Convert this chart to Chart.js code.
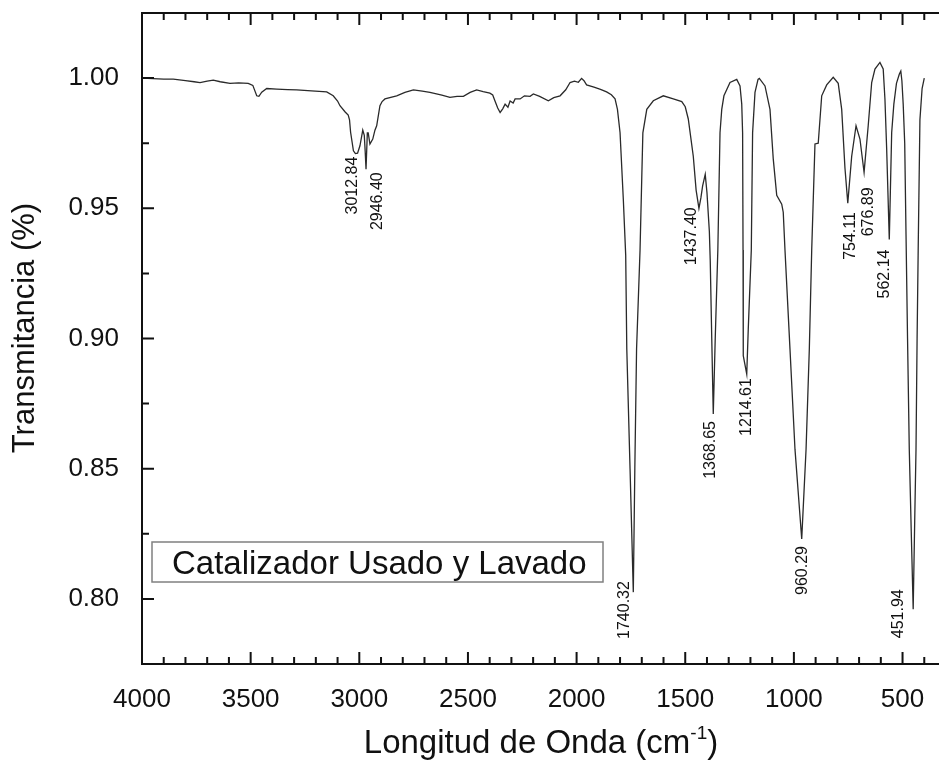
<!DOCTYPE html>
<html>
<head>
<meta charset="utf-8">
<script src="https://cdn.jsdelivr.net/npm/chart.js@4"></script>
<style>
html, body { margin: 0; padding: 0; background: #fff; overflow: hidden; }
#wrap { width: 950px; height: 763px; }
</style>
</head>
<body>
<div id="wrap"><canvas id="ftir" width="950" height="763"></canvas></div>
<script>
// FTIR spectrum
const wavenumbers = [
    4000, 3950, 3900, 3856, 3800, 3760, 3733, 3700, 3672, 3640, 3595, 3555, 3511, 3490, 3472, 3462,
    3449, 3426, 3380, 3330, 3288, 3220, 3150, 3120, 3100, 3089, 3065, 3051, 3045, 3040, 3027, 3018,
    3008, 2997, 2984, 2977, 2973, 2969, 2963, 2959, 2951, 2938, 2928, 2920, 2905, 2895, 2882, 2828,
    2790, 2751, 2710, 2675, 2620, 2583, 2550, 2521, 2490, 2460, 2430, 2399, 2386, 2376, 2363, 2352,
    2340, 2329, 2316, 2306, 2292, 2283, 2260, 2240, 2214, 2199, 2170, 2130, 2105, 2076, 2050, 2030,
    2010, 1992, 1977, 1966, 1954, 1920, 1890, 1862, 1840, 1823, 1812, 1800, 1785, 1774, 1769, 1754,
    1739, 1732, 1724, 1708, 1700, 1695, 1677, 1647, 1601, 1555, 1516, 1500, 1486, 1463, 1450, 1437,
    1428, 1420, 1408, 1400, 1389, 1385, 1378, 1371, 1362, 1350, 1340, 1332, 1322, 1294, 1263, 1248,
    1240, 1236, 1234, 1233, 1217, 1210, 1196, 1190, 1179, 1165, 1159, 1133, 1110, 1095, 1079, 1056,
    1049, 1041, 1018, 995, 964, 944, 929, 918, 903, 888, 872, 849, 819, 796, 780, 765,
    752, 734, 714, 696, 677, 658, 642, 627, 604, 589, 581, 573, 561, 550, 540, 528,
    515, 508, 503, 497, 490, 484, 477, 469, 460, 451, 444, 438, 433, 428, 420, 410,
    400
];
const transmittance = [
    1.0000, 0.9998, 0.9996, 0.9996, 0.9990, 0.9986, 0.9983, 0.9988, 0.9992, 0.9986, 0.9980, 0.9982, 0.9980, 0.9972, 0.9932, 0.9930,
    0.9946, 0.9960, 0.9958, 0.9956, 0.9955, 0.9951, 0.9947, 0.9932, 0.9912, 0.9894, 0.9870, 0.9858, 0.9840, 0.9792, 0.9721, 0.9710,
    0.9712, 0.9740, 0.9800, 0.9780, 0.9720, 0.9650, 0.9790, 0.9790, 0.9747, 0.9766, 0.9800, 0.9817, 0.9894, 0.9910, 0.9920, 0.9932,
    0.9945, 0.9955, 0.9950, 0.9945, 0.9935, 0.9926, 0.9930, 0.9930, 0.9945, 0.9955, 0.9948, 0.9942, 0.9935, 0.9913, 0.9885, 0.9868,
    0.9882, 0.9900, 0.9888, 0.9912, 0.9904, 0.9920, 0.9920, 0.9932, 0.9930, 0.9939, 0.9930, 0.9913, 0.9925, 0.9932, 0.9955, 0.9983,
    0.9988, 0.9984, 0.9999, 0.9990, 0.9974, 0.9965, 0.9957, 0.9947, 0.9936, 0.9920, 0.9880, 0.9790, 0.9535, 0.9320, 0.8960, 0.8500,
    0.8026, 0.8500, 0.8960, 0.9340, 0.9620, 0.9790, 0.9880, 0.9913, 0.9932, 0.9920, 0.9910, 0.9890, 0.9843, 0.9700, 0.9570, 0.9500,
    0.9540, 0.9586, 0.9630, 0.9560, 0.9410, 0.9300, 0.9000, 0.8710, 0.9000, 0.9340, 0.9790, 0.9880, 0.9932, 0.9983, 0.9995, 0.9970,
    0.9900, 0.9790, 0.9340, 0.8934, 0.8863, 0.9036, 0.9340, 0.9790, 0.9945, 0.9995, 0.9999, 0.9970, 0.9880, 0.9690, 0.9550, 0.9516,
    0.9485, 0.9340, 0.8960, 0.8575, 0.8230, 0.8575, 0.8960, 0.9340, 0.9747, 0.9750, 0.9932, 0.9974, 1.0003, 0.9980, 0.9880, 0.9655,
    0.9520, 0.9700, 0.9817, 0.9766, 0.9638, 0.9817, 0.9983, 1.0035, 1.0060, 1.0035, 0.9920, 0.9727, 0.9380, 0.9790, 0.9900, 0.9980,
    1.0015, 1.0027, 0.9990, 0.9900, 0.9750, 0.9400, 0.9000, 0.8575, 0.8260, 0.7960, 0.8300, 0.8575, 0.9000, 0.9340, 0.9840, 0.9960,
    1.0000
];
const peakLabels = [3012.84, 2946.40, 1740.32, 1437.40, 1368.65, 1214.61, 960.29, 754.11, 676.89, 562.14, 451.94];
const xMajorTicks = [4000, 3500, 3000, 2500, 2000, 1500, 1000, 500];
const yMajorTicks = [0.80, 0.85, 0.90, 0.95, 1.00];
const seriesName = 'Catalizador Usado y Lavado';

const FONT = '"Liberation Sans", Arial, sans-serif';

// label placement relative to the peak tip, in pixels [dx, dy]
const labelShift = [[-4, 3], [7, 3], [-8, -11], [-7, -1], [-3, 7], [-1, 4], [0, 7], [3, 9], [4, 15], [-4, 10], [-14, -20]];

function tipValue(w) {
    let best = Infinity;
    wavenumbers.forEach((x, i) => {
        if (Math.abs(x - w) <= 25 && transmittance[i] < best) best = transmittance[i];
    });
    return best;
}

const framePlugin = {
    id: 'frame',
    afterDatasetsDraw(chart) {
        const { ctx, chartArea: a, scales: { x, y } } = chart;
        ctx.save();
        ctx.strokeStyle = '#111';
        ctx.lineWidth = 2;
        ctx.beginPath();
        ctx.moveTo(a.right, a.top);
        ctx.lineTo(a.left, a.top);
        ctx.lineTo(a.left, a.bottom);
        ctx.lineTo(a.right, a.bottom);
        ctx.lineTo(a.right, a.top);
        for (let w = 4000; w >= 400; w -= 100) {
            const px = x.getPixelForValue(w);
            const len = w % 500 === 0 ? 12 : 7;
            ctx.moveTo(px, a.bottom); ctx.lineTo(px, a.bottom - len);
            ctx.moveTo(px, a.top); ctx.lineTo(px, a.top + len);
        }
        for (let k = 1; k < 10; k++) {
            const py = y.getPixelForValue(0.775 + k * 0.025);
            const len = k % 2 === 1 ? 12 : 7;
            ctx.moveTo(a.left, py); ctx.lineTo(a.left + len, py);
        }
        ctx.stroke();

        // peak labels
        ctx.fillStyle = '#111';
        ctx.font = '16px ' + FONT;
        ctx.textAlign = 'right';
        ctx.textBaseline = 'middle';
        peakLabels.forEach((w, i) => {
            const px = x.getPixelForValue(w) + labelShift[i][0];
            const py = y.getPixelForValue(tipValue(w)) + labelShift[i][1];
            ctx.save();
            ctx.translate(px, py);
            ctx.rotate(-Math.PI / 2);
            ctx.fillText(w.toFixed(2), 0, 0);
            ctx.restore();
        });

        // legend box
        ctx.fillStyle = '#fff';
        ctx.fillRect(152, 542, 451, 40);
        ctx.strokeStyle = '#808080';
        ctx.lineWidth = 1.5;
        ctx.strokeRect(152, 542, 451, 40);
        ctx.fillStyle = '#111';
        ctx.font = '33px ' + FONT;
        ctx.textAlign = 'left';
        ctx.textBaseline = 'alphabetic';
        ctx.fillText(seriesName, 172, 574);

        // y title
        ctx.save();
        ctx.font = '31px ' + FONT;
        ctx.textAlign = 'center';
        ctx.textBaseline = 'middle';
        ctx.translate(25, 328);
        ctx.rotate(-Math.PI / 2);
        ctx.fillText('Transmitancia (%)', 0, 0);
        ctx.restore();

        // x title with superscript
        const main = 'Longitud de Onda (cm', sup = '-1', end = ')';
        ctx.font = '33px ' + FONT;
        const w1 = ctx.measureText(main).width, w3 = ctx.measureText(end).width;
        ctx.font = '19px ' + FONT;
        const w2 = ctx.measureText(sup).width;
        let tx = 541 - (w1 + w2 + w3) / 2;
        ctx.font = '33px ' + FONT;
        ctx.fillText(main, tx, 753);
        tx += w1;
        ctx.font = '19px ' + FONT;
        ctx.fillText(sup, tx, 739);
        tx += w2;
        ctx.font = '33px ' + FONT;
        ctx.fillText(end, tx, 753);
        ctx.restore();
    }
};

const points = wavenumbers.map((w, i) => ({ x: w, y: transmittance[i] }));

new Chart(document.getElementById('ftir'), {
    type: 'line',
    data: {
        datasets: [{
            label: seriesName,
            data: points,
            borderColor: '#2a2a2a',
            borderWidth: 1.3,
            pointRadius: 0,
            tension: 0,
            fill: false
        }]
    },
    options: {
        responsive: false,
        animation: false,
        devicePixelRatio: 1,
        layout: { padding: { left: 0, top: 13, right: 4, bottom: 0 } },
        plugins: { legend: { display: false }, tooltip: { enabled: false } },
        scales: {
            x: {
                type: 'linear',
                reverse: true,
                min: 300,
                max: 4000,
                grid: { display: false },
                border: { display: false },
                afterBuildTicks: s => { s.ticks = xMajorTicks.map(v => ({ value: v })); },
                afterFit: s => { s.height = 99; s.paddingLeft = 0; s.paddingRight = 0; },
                ticks: {
                    font: { family: FONT, size: 26 },
                    color: '#111',
                    padding: 12,
                    maxRotation: 0,
                    autoSkip: false,
                    callback: v => String(v)
                }
            },
            y: {
                min: 0.775,
                max: 1.025,
                grid: { display: false },
                border: { display: false },
                afterBuildTicks: s => { s.ticks = yMajorTicks.map(v => ({ value: v })); },
                afterFit: s => { s.width = 142; s.paddingTop = 0; s.paddingBottom = 0; },
                ticks: {
                    font: { family: FONT, size: 26 },
                    color: '#111',
                    padding: 15,
                    callback: v => v.toFixed(2)
                }
            }
        }
    },
    plugins: [framePlugin]
});
</script>
</body>
</html>
